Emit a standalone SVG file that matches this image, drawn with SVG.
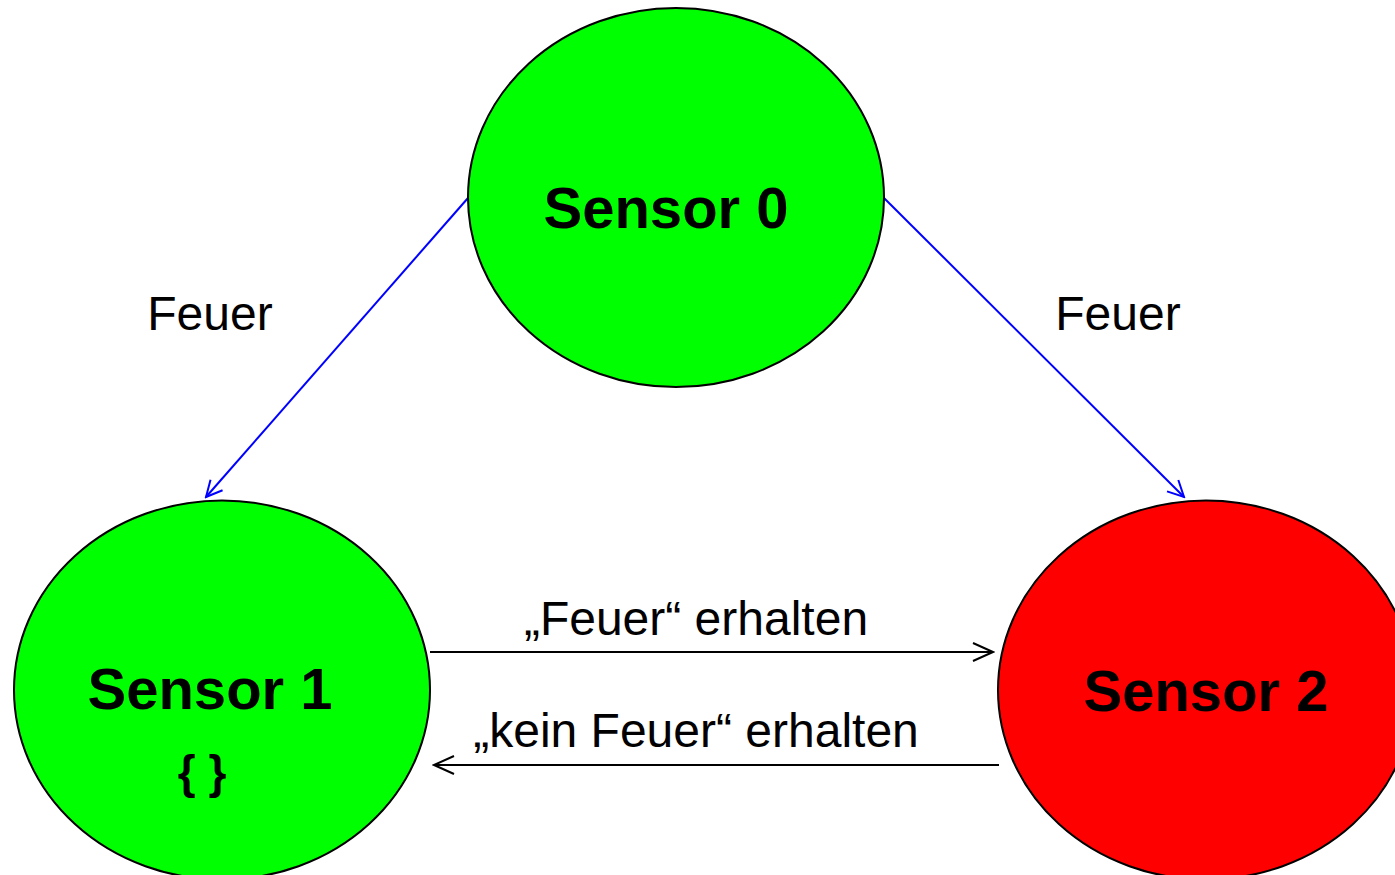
<svg xmlns="http://www.w3.org/2000/svg" width="1395" height="875" viewBox="0 0 1395 875">
<style>
.node{stroke:#000;stroke-width:2}
.t{font-family:"Liberation Sans",Arial,sans-serif;fill:#000}
.b{font-weight:bold;font-size:58px;text-anchor:middle}
.l{font-size:48px;text-anchor:middle}
.blue{stroke:#0000ff;stroke-width:2;fill:none}
.blk{stroke:#000;stroke-width:2;fill:none}
</style>
<defs>
<marker id="ab" markerWidth="20" markerHeight="20" refX="18" refY="10" orient="auto" markerUnits="userSpaceOnUse" viewBox="0 0 20 20">
<path d="M2,2 L18,10 L2,18" fill="none" stroke="#0000ff" stroke-width="2"/>
</marker>
<marker id="ak" markerWidth="24" markerHeight="24" refX="22" refY="12" orient="auto" markerUnits="userSpaceOnUse" viewBox="0 0 24 24">
<path d="M2,3 L22,12 L2,21" fill="none" stroke="#000" stroke-width="2"/>
</marker>
</defs>
<rect width="1395" height="875" fill="#fff"/>
<g id="connectors">
<line class="blue" x1="468" y1="198" x2="206" y2="497" marker-end="url(#ab)"/>
<line class="blue" x1="884" y1="198" x2="1184" y2="497" marker-end="url(#ab)"/>
<line class="blk" x1="430" y1="652" x2="993" y2="652" marker-end="url(#ak)"/>
<line class="blk" x1="999" y1="765" x2="434" y2="765" marker-end="url(#ak)"/>
<text class="t l" x="210" y="330">Feuer</text>
<text class="t l" x="1118" y="330">Feuer</text>
<text class="t l" x="696" y="635">„Feuer“ erhalten</text>
<text class="t l" x="696" y="747">„kein Feuer“ erhalten</text>
</g>
<g id="sensor0">
<ellipse class="node" cx="676" cy="197.5" rx="208" ry="189.5" fill="#00ff00"/>
<text class="t b" x="666" y="228">Sensor 0</text>
</g>
<g id="sensor1">
<ellipse class="node" cx="222" cy="690" rx="208" ry="189.5" fill="#00ff00"/>
<text class="t b" x="210" y="709">Sensor 1</text>
<text class="t" x="202" y="788" font-size="46" font-weight="bold" text-anchor="middle">{ }</text>
</g>
<g id="sensor2">
<ellipse class="node" cx="1206" cy="690" rx="208" ry="189.5" fill="#ff0000"/>
<text class="t b" x="1206" y="711">Sensor 2</text>
</g>
</svg>
